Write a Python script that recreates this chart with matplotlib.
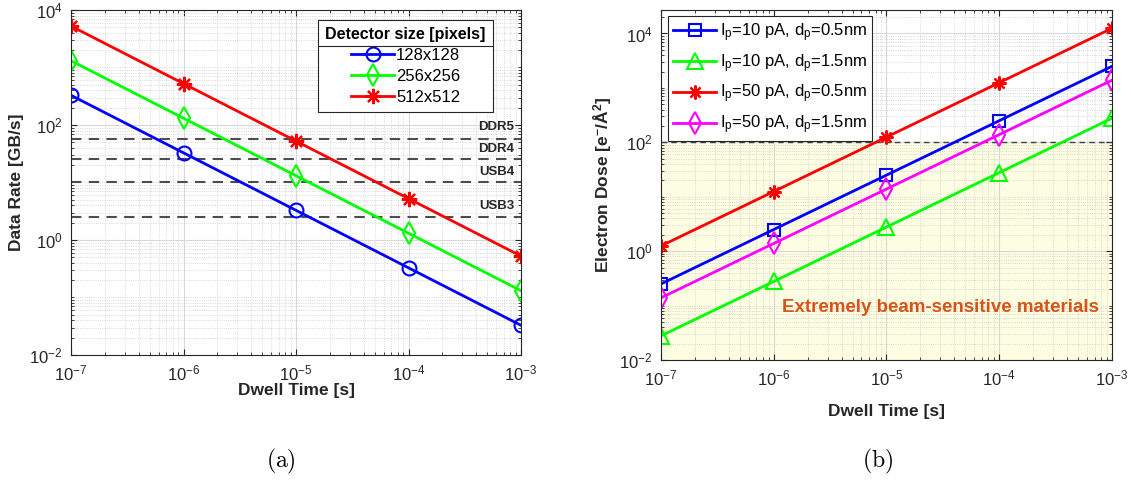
import matplotlib
matplotlib.use('Agg')
import matplotlib.pyplot as plt
from matplotlib.ticker import FixedLocator, LogLocator, NullFormatter
from matplotlib.lines import Line2D

plt.rcParams['font.family'] = ['Liberation Sans', 'DejaVu Sans']
plt.rcParams['mathtext.fontset'] = 'custom'
plt.rcParams['mathtext.rm'] = 'Liberation Sans'
plt.rcParams['mathtext.it'] = 'Liberation Sans'
plt.rcParams['mathtext.bf'] = 'Liberation Sans:bold'

# dwell time [s]
dwell = [1e-7, 1e-6, 1e-5, 1e-4, 1e-3]

# (a) data rate [GB/s]
rate_128 = [327.7, 32.77, 3.277, 0.3277, 0.03277]
rate_256 = [1311, 131.1, 13.11, 1.311, 0.1311]
rate_512 = [5243, 524.3, 52.43, 5.243, 0.5243]
bus_names = ['DDR5', 'DDR4', 'USB4', 'USB3']
bus_rates = [57.6, 25.6, 10.0, 2.5]
bus_label_y = [92, 38, 15.4, 3.9]

# (b) electron dose [e-/A^2]
dose_10_05 = [0.2497, 2.497, 24.97, 249.7, 2497]
dose_10_15 = [0.02774, 0.2774, 2.774, 27.74, 277.4]
dose_50_05 = [1.248, 12.48, 124.8, 1248, 12480]
dose_50_15 = [0.1387, 1.387, 13.87, 138.7, 1387]
dose_limit = 100

axcol = '#262626'

fig = plt.figure(figsize=(11.31, 4.82), dpi=100)
ax1 = fig.add_axes([0.0628, 0.2635, 0.3979, 0.7158])
ax2 = fig.add_axes([0.5844, 0.2531, 0.3988, 0.7261])


def style_axes(ax, ylim, xpad):
    ax.set_xscale('log')
    ax.set_yscale('log')
    ax.set_xlim(1e-7, 1e-3)
    ax.set_ylim(*ylim)
    ax.xaxis.set_major_locator(FixedLocator([1e-7, 1e-6, 1e-5, 1e-4, 1e-3]))
    ax.yaxis.set_major_locator(FixedLocator([1e-2, 1, 1e2, 1e4]))
    ax.xaxis.set_minor_locator(LogLocator(base=10, subs=range(1, 10), numticks=50))
    ax.yaxis.set_minor_locator(LogLocator(base=10, subs=range(1, 10), numticks=50))
    ax.xaxis.set_minor_formatter(NullFormatter())
    ax.yaxis.set_minor_formatter(NullFormatter())
    ax.tick_params(which='both', direction='in', top=True, right=True,
                   colors=axcol, labelsize=12)
    ax.tick_params(which='major', length=4, pad=6)
    ax.tick_params(which='minor', length=2)
    ax.grid(True, which='major', color='#d8d8d8', linewidth=0.8, linestyle='-')
    ax.grid(True, which='minor', color='#cccccc', linewidth=0.6, linestyle=':')
    ax.set_axisbelow(True)
    for s in ax.spines.values():
        s.set_color(axcol)
        s.set_linewidth(0.8)
    ax.set_xlabel('Dwell Time [s]', fontsize=12.5, fontweight='bold', color=axcol,
                  labelpad=xpad)


# ---- (a) ----
style_axes(ax1, (1e-2, 1e4), 0)
for r in bus_rates:
    ax1.axhline(r, color='#4d4d4d', linestyle=(0, (5, 3.5)), linewidth=1.5)
for name, yl in zip(bus_names, bus_label_y):
    ax1.text(8.7e-4, yl, name, ha='right', va='center', fontsize=9.5,
             fontweight='bold', color=axcol)
ax1.plot(dwell, rate_128, color='b', marker='o', ms=10, mfc='none', mew=1.5,
         lw=2, label='128x128')
ax1.plot(dwell, rate_256, color='#00ff00', marker='d', ms=11, mfc='none', mew=1.5,
         lw=2, label='256x256')
ax1.plot(dwell, rate_512, color='r', marker=(8, 2, 0), ms=11, mew=1.6,
         lw=2, label='512x512')
ax1.set_ylabel('Data Rate [GB/s]', fontsize=12.5, fontweight='bold', color=axcol)
leg1 = ax1.legend(loc='upper right', bbox_to_anchor=(0.938, 0.971), borderaxespad=0,
                  fontsize=12, title='Detector size [pixels]', fancybox=False,
                  edgecolor=axcol, framealpha=1, handlelength=2.6,
                  borderpad=0.45, labelspacing=0.35, handletextpad=0.1)
leg1.get_title().set_fontweight('bold')
leg1.get_title().set_fontsize(11.5)
leg1.get_frame().set_linewidth(0.8)

# ---- (b) ----
style_axes(ax2, (1e-2, 2.7e4), 11)
ax2.axhspan(1e-2, dose_limit, color='#fdfde2', zorder=0)
ax2.axhline(dose_limit, color='#404040', linestyle=(0, (4, 3)), linewidth=1)
ax2.plot(dwell, dose_10_05, color='b', marker='s', ms=8, mfc='none', mew=1.5,
         lw=2, label='I$_\\mathregular{p}$=10 pA, d$_\\mathregular{p}$=0.5nm')
ax2.plot(dwell, dose_10_15, color='#00ff00', marker='^', ms=11, mfc='none', mew=1.5,
         lw=2, label='I$_\\mathregular{p}$=10 pA, d$_\\mathregular{p}$=1.5nm')
ax2.plot(dwell, dose_50_05, color='r', marker=(8, 2, 0), ms=10, mew=1.6,
         lw=2, label='I$_\\mathregular{p}$=50 pA, d$_\\mathregular{p}$=0.5nm')
ax2.plot(dwell, dose_50_15, color='#ff00ff', marker='d', ms=11, mfc='none', mew=1.5,
         lw=2, label='I$_\\mathregular{p}$=50 pA, d$_\\mathregular{p}$=1.5nm')
ax2.text(3e-5, 0.093, 'Extremely beam-sensitive materials', ha='center', va='center',
         fontsize=13.5, fontweight='bold', color='#d95319')
ax2.set_ylabel('Electron Dose [e$^\\mathregular{-}$/Å$^\\mathregular{2}$]', fontsize=12.5,
               fontweight='bold', color=axcol)
leg2 = ax2.legend(loc='upper left', bbox_to_anchor=(0.0155, 0.983), borderaxespad=0,
                  fontsize=12, fancybox=False, edgecolor=axcol, framealpha=1,
                  handlelength=2.6, borderpad=0.3, labelspacing=0.5,
                  handletextpad=0.2)
leg2.get_frame().set_linewidth(0.8)

# separator line under the legend title in (a)
fig.canvas.draw()
fb = leg1.get_frame().get_window_extent()
tb = leg1.get_title().get_window_extent()
inv = fig.transFigure.inverted()
ysep = inv.transform((0, tb.y0 - 4))[1]
x0 = inv.transform((fb.x0, 0))[0]
x1 = inv.transform((fb.x1, 0))[0]
fig.add_artist(Line2D([x0, x1], [ysep, ysep], color=axcol, lw=0.8))

fig.text(0.2485, 0.042, r'$\mathrm{(a)}$', ha='center', va='center', fontsize=17,
         math_fontfamily='cm')
fig.text(0.776, 0.042, r'$\mathrm{(b)}$', ha='center', va='center', fontsize=17,
         math_fontfamily='cm')

fig.savefig('out.png', dpi=100)
